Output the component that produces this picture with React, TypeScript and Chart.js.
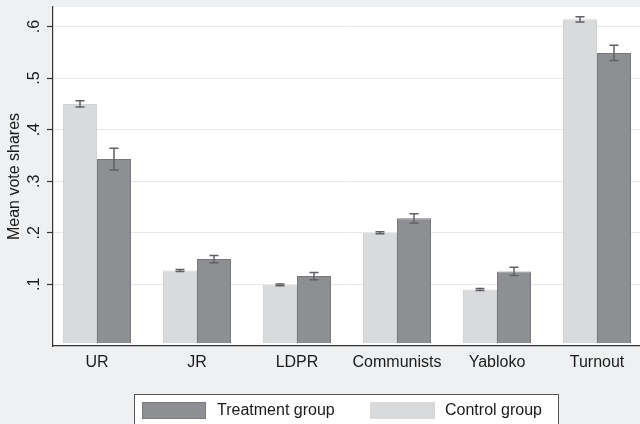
import React, { useEffect, useRef } from "react";
import { Chart, registerables } from "chart.js";

Chart.register(...registerables);

const categories = ["UR", "JR", "LDPR", "Communists", "Yabloko", "Turnout"];
const controlValues = [0.45, 0.127, 0.099, 0.2, 0.09, 0.614];
const controlErrors = [0.006, 0.002, 0.0015, 0.002, 0.002, 0.005];
const treatmentValues = [0.343, 0.149, 0.116, 0.228, 0.125, 0.549];
const treatmentErrors = [0.021, 0.007, 0.007, 0.009, 0.008, 0.015];
const yTickValues = [0.1, 0.2, 0.3, 0.4, 0.5, 0.6];
const yTickLabels = [".1", ".2", ".3", ".4", ".5", ".6"];
const legendLabels = ["Treatment group", "Control group"];
const yTitle = "Mean vote shares";

const BG = "#eff0f2";
const CONTROL_COLOR = "#d9dadc";
const TREAT_COLOR = "#8e8f93";
const FONT = "'Liberation Sans', Arial, Helvetica, sans-serif";

export default function App() {
  const ref = useRef<HTMLCanvasElement | null>(null);

  useEffect(() => {
    const canvas = ref.current;
    if (!canvas) return;

    const bgPlugin = {
      id: "bg",
      beforeDraw(chart: any) {
        const { ctx, chartArea } = chart;
        ctx.save();
        ctx.fillStyle = BG;
        ctx.fillRect(0, 0, chart.width, chart.height);
        ctx.fillStyle = "#ffffff";
        ctx.fillRect(chartArea.left, chartArea.top, chartArea.right - chartArea.left, chartArea.bottom - chartArea.top);
        ctx.restore();
      },
    };

    const errorPlugin = {
      id: "errbars",
      afterDatasetsDraw(chart: any) {
        const { ctx } = chart;
        const yScale = chart.scales.y;
        const errs = [controlErrors, treatmentErrors];
        const vals = [controlValues, treatmentValues];
        ctx.save();
        ctx.strokeStyle = "#606165";
        ctx.lineWidth = 1.5;
        for (let d = 0; d < 2; d++) {
          const meta = chart.getDatasetMeta(d);
          meta.data.forEach((bar: any, i: number) => {
            const x = bar.x;
            const yHi = yScale.getPixelForValue(vals[d][i] + errs[d][i]);
            const yLo = yScale.getPixelForValue(vals[d][i] - errs[d][i]);
            ctx.beginPath();
            ctx.moveTo(x, yHi);
            ctx.lineTo(x, yLo);
            ctx.moveTo(x - 4.5, yHi);
            ctx.lineTo(x + 4.5, yHi);
            ctx.moveTo(x - 4.5, yLo);
            ctx.lineTo(x + 4.5, yLo);
            ctx.stroke();
          });
        }
        ctx.restore();
      },
    };

    const yLabelPlugin = {
      id: "ylabels",
      afterDraw(chart: any) {
        const { ctx } = chart;
        const yScale = chart.scales.y;
        ctx.save();
        ctx.fillStyle = "#1a1a1a";
        ctx.font = "16px " + FONT;
        ctx.textAlign = "center";
        ctx.textBaseline = "middle";
        yTickValues.forEach((v, i) => {
          const y = yScale.getPixelForValue(v);
          ctx.save();
          ctx.translate(35, y);
          ctx.rotate(-Math.PI / 2);
          ctx.fillText(yTickLabels[i], 0, 0);
          ctx.restore();
        });
        ctx.restore();
      },
    };

    const legendPlugin = {
      id: "customLegend",
      afterDraw(chart: any) {
        const { ctx } = chart;
        ctx.save();
        ctx.fillStyle = "#ffffff";
        ctx.fillRect(134, 394, 424, 40);
        ctx.strokeStyle = "#555555";
        ctx.lineWidth = 1;
        ctx.strokeRect(134.5, 394.5, 424, 40);
        ctx.fillStyle = TREAT_COLOR;
        ctx.fillRect(142, 402, 64, 17);
        ctx.strokeStyle = "#7a7b7f";
        ctx.strokeRect(142.5, 402.5, 63, 16);
        ctx.fillStyle = CONTROL_COLOR;
        ctx.fillRect(370, 402, 65, 17);
        ctx.fillStyle = "#1a1a1a";
        ctx.font = "16px " + FONT;
        ctx.textAlign = "left";
        ctx.textBaseline = "middle";
        ctx.fillText(legendLabels[0], 217, 411);
        ctx.fillText(legendLabels[1], 445, 411);
        ctx.restore();
      },
    };

    const chart = new Chart(canvas, {
      type: "bar",
      data: {
        datasets: [
          {
            label: legendLabels[1],
            data: controlValues.map((v, i) => ({ x: i, y: v })),
            backgroundColor: CONTROL_COLOR,
            borderColor: "#d2d3d5",
            borderWidth: 1,
            base: -0.0138,
            categoryPercentage: 0.68,
            barPercentage: 1.0,
          } as any,
          {
            label: legendLabels[0],
            data: treatmentValues.map((v, i) => ({ x: i, y: v })),
            backgroundColor: TREAT_COLOR,
            borderColor: "#77787c",
            borderWidth: 1,
            base: -0.0138,
            categoryPercentage: 0.68,
            barPercentage: 1.0,
          } as any,
        ],
      },
      options: {
        responsive: false,
        animation: false,
        layout: { padding: { top: 7, left: 0, right: 0, bottom: 0 } },
        plugins: {
          legend: { display: false },
          tooltip: { enabled: false },
          title: { display: false },
        },
        scales: {
          x: {
            type: "linear",
            offset: false,
            min: -0.44,
            max: 5.43,
            afterBuildTicks(scale: any) {
              scale.ticks = categories.map((_, i) => ({ value: i }));
            },
            afterFit(scale: any) {
              scale.height = 424 - 346;
            },
            grid: { display: false, drawTicks: false, offset: false },
            border: { display: true, color: "#333333", width: 1.2 },
            ticks: {
              autoSkip: false,
              maxRotation: 0,
              minRotation: 0,
              padding: 7,
              color: "#1a1a1a",
              font: { family: FONT, size: 16 },
              callback: (value: any) => categories[Math.round(Number(value))] ?? "",
            },
          },
          y: {
            type: "linear",
            min: -0.0196,
            max: 0.638,
            afterBuildTicks(scale: any) {
              scale.ticks = yTickValues.map((v) => ({ value: v }));
            },
            afterFit(scale: any) {
              scale.width = 53;
            },
            grid: {
              display: true,
              color: "#e8e8e8",
              lineWidth: 1,
              drawTicks: true,
              tickLength: 6,
              tickColor: "#333333",
              tickWidth: 1.2,
            } as any,
            border: { display: true, color: "#333333", width: 1.2 },
            ticks: { display: false },
            title: {
              display: true,
              text: yTitle,
              color: "#1a1a1a",
              font: { family: FONT, size: 16 },
              padding: { top: 5, bottom: 0 },
            },
          },
        },
      } as any,
      plugins: [bgPlugin, errorPlugin, yLabelPlugin, legendPlugin],
    });

    return () => chart.destroy();
  }, []);

  return (
    <div style={{ position: "fixed", left: 0, top: 0, width: 640, height: 424, overflow: "hidden", background: BG }}>
      <canvas ref={ref} width={640} height={424} style={{ display: "block", width: 640, height: 424 }} />
    </div>
  );
}
